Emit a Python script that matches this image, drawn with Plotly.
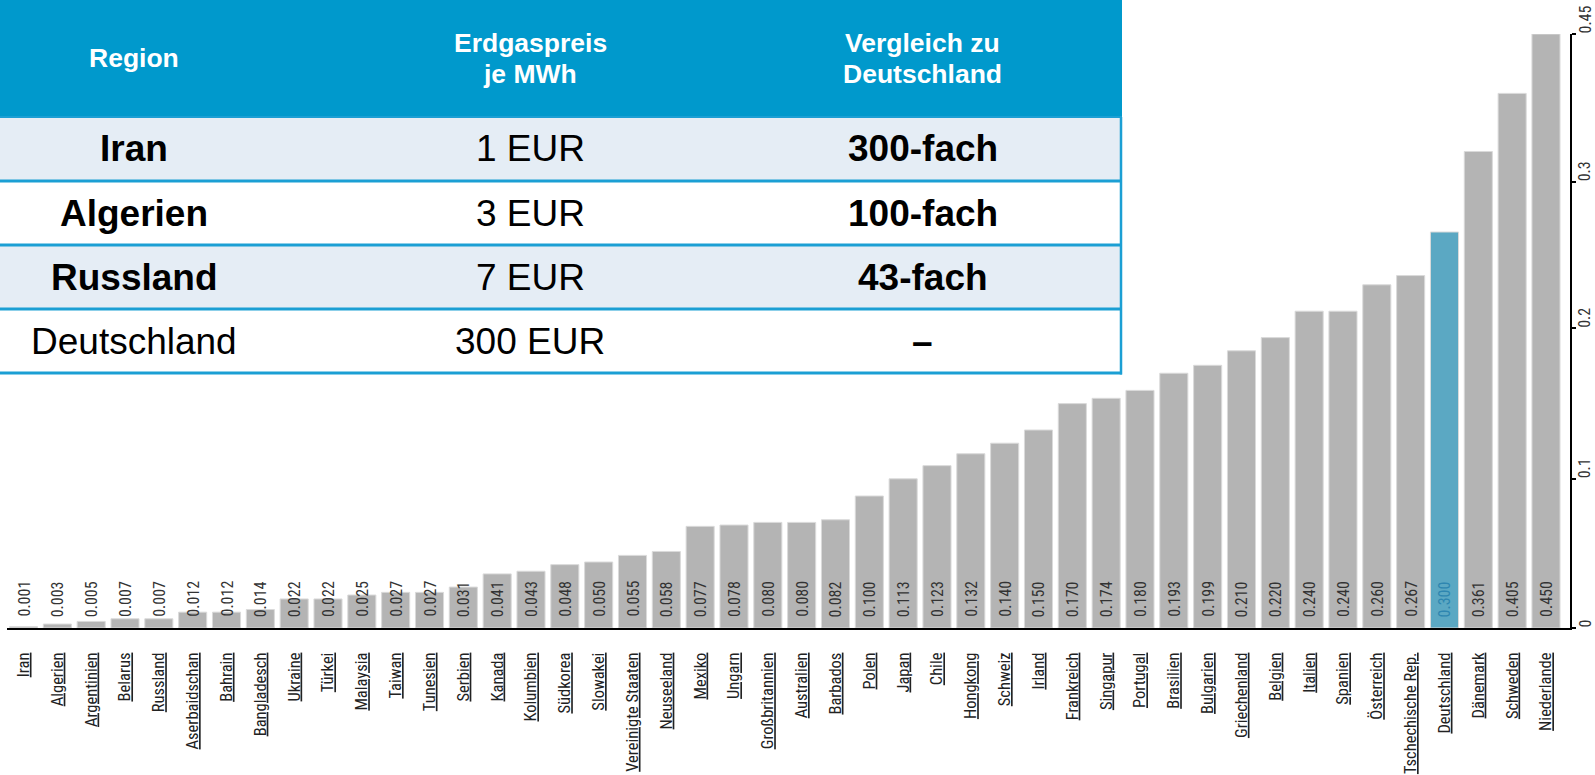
import plotly.graph_objects as go

# ---------------- data ----------------
countries = ["Iran", "Algerien", "Argentinien", "Belarus", "Russland", "Aserbaidschan", "Bahrain",
             "Bangladesch", "Ukraine", "Türkei", "Malaysia", "Taiwan", "Tunesien", "Serbien",
             "Kanada", "Kolumbien", "Südkorea", "Slowakei", "Vereinigte Staaten", "Neuseeland",
             "Mexiko", "Ungarn", "Großbritannien", "Australien", "Barbados", "Polen", "Japan",
             "Chile", "Hongkong", "Schweiz", "Irland", "Frankreich", "Singapur", "Portugal",
             "Brasilien", "Bulgarien", "Griechenland", "Belgien", "Italien", "Spanien",
             "Österreich", "Tschechische Rep.", "Deutschland", "Dänemark", "Schweden", "Niederlande"]
prices = [0.001, 0.003, 0.005, 0.007, 0.007, 0.012, 0.012, 0.014, 0.022, 0.022, 0.025, 0.027,
          0.027, 0.031, 0.041, 0.043, 0.048, 0.050, 0.055, 0.058, 0.077, 0.078, 0.080, 0.080,
          0.082, 0.100, 0.113, 0.123, 0.132, 0.140, 0.150, 0.170, 0.174, 0.180, 0.193, 0.199,
          0.210, 0.220, 0.240, 0.240, 0.260, 0.267, 0.300, 0.361, 0.405, 0.450]
highlight = "Deutschland"

y_tick_labels = ["0", "0.1", "0.2", "0.3", "0.45"]
y_tick_values = [0.0, 0.113, 0.227, 0.338, 0.45]

table_header = [["Region"], ["Erdgaspreis", "je MWh"], ["Vergleich zu", "Deutschland"]]
table_regions = ["Iran", "Algerien", "Russland", "Deutschland"]
table_prices = ["1 EUR", "3 EUR", "7 EUR", "300 EUR"]
table_compare = ["300-fach", "100-fach", "43-fach", "–"]
table_region_bold = [True, True, True, False]

# ---------------- styling / layout constants ----------------
W, H = 1595, 775
ML, MR, MT, MB = 7, 25, 34, 147
PW, PH = W - ML - MR, H - MT - MB
BAR_GRAY = "#b4b4b4"
BAR_BLUE = "#5ba8c3"
HEAD_BLUE = "#0099cc"
LINE_BLUE = "#1b9fd4"
ROW_LIGHT = "#e5edf5"
NARROW = "Liberation Sans Narrow, Arial Narrow, Roboto Condensed, DejaVu Sans Condensed, sans-serif"
SANS = "Liberation Sans, Arial, Helvetica, sans-serif"


def px_x(px):
    return (px - ML) / PW


def px_y(py):
    return (H - MB - py) / PH


colors = [BAR_BLUE if c == highlight else BAR_GRAY for c in countries]

fig = go.Figure()
fig.add_trace(go.Bar(
    x=countries, y=prices,
    marker=dict(color=colors, line=dict(color="#dadada", width=1)),
    hoverinfo="x+y", showlegend=False,
))

annotations = []
# value labels inside the bars (rotated)
for c, v in zip(countries, prices):
    annotations.append(dict(
        x=c, y=0, xref="x", yref="y", text=f"{v:.3f}", showarrow=False,
        textangle=-90, yanchor="bottom", xanchor="center", yshift=9,
        font=dict(family=NARROW, size=16,
                  color="#2e86b0" if c == highlight else "#333333"),
    ))

# y tick labels (rotated, starting at the tick)
for val, lab in zip(y_tick_values, y_tick_labels):
    annotations.append(dict(
        x=1, y=val, xref="paper", yref="y", text=lab, showarrow=False,
        textangle=-90, xanchor="left", yanchor="bottom", xshift=4, yshift=-1,
        borderpad=0,
        font=dict(family=NARROW, size=16, color="#333333"),
    ))

# ---------------- table (shapes + text) ----------------
TABLE_W = 1122
HEAD_H = 117
ROW_H = 64
col_centers = [134, 530, 923]
shapes = []
shapes.append(dict(type="rect", xref="paper", yref="paper",
                   x0=px_x(0), x1=px_x(TABLE_W), y0=px_y(HEAD_H), y1=px_y(0),
                   fillcolor=HEAD_BLUE, line=dict(width=0), layer="above"))
for i in range(len(table_regions)):
    top = HEAD_H + i * ROW_H
    shapes.append(dict(type="rect", xref="paper", yref="paper",
                       x0=px_x(0), x1=px_x(TABLE_W), y0=px_y(top + ROW_H), y1=px_y(top),
                       fillcolor=ROW_LIGHT if i % 2 == 0 else "white",
                       line=dict(width=0), layer="above"))
for i in range(len(table_regions) + 1):
    yy = HEAD_H + i * ROW_H
    shapes.append(dict(type="line", xref="paper", yref="paper",
                       x0=px_x(0), x1=px_x(TABLE_W), y0=px_y(yy), y1=px_y(yy),
                       line=dict(color=LINE_BLUE, width=3 if i > 0 else 2), layer="above"))
shapes.append(dict(type="line", xref="paper", yref="paper",
                   x0=px_x(TABLE_W - 1), x1=px_x(TABLE_W - 1),
                   y0=px_y(HEAD_H + len(table_regions) * ROW_H + 1.5), y1=px_y(HEAD_H),
                   line=dict(color=LINE_BLUE, width=2.5), layer="above"))

# header text
for cx, lines in zip(col_centers, table_header):
    n = len(lines)
    for k, line in enumerate(lines):
        cy = HEAD_H / 2 + (k - (n - 1) / 2) * 31
        annotations.append(dict(
            x=px_x(cx), y=px_y(cy), xref="paper", yref="paper", text=f"<b>{line}</b>",
            showarrow=False, xanchor="center", yanchor="middle",
            font=dict(family=SANS, size=26.5, color="white"),
        ))

# body text
for i, (reg, pr, cmp_, bold) in enumerate(zip(table_regions, table_prices, table_compare,
                                               table_region_bold)):
    cy = HEAD_H + i * ROW_H + ROW_H / 2
    cells = [(f"<b>{reg}</b>" if bold else reg), pr, f"<b>{cmp_}</b>"]
    for cx, txt in zip(col_centers, cells):
        annotations.append(dict(
            x=px_x(cx), y=px_y(cy), xref="paper", yref="paper", text=txt,
            showarrow=False, xanchor="center", yanchor="middle",
            font=dict(family=SANS, size=37, color="black"),
        ))

fig.update_layout(
    width=W, height=H,
    margin=dict(l=ML, r=MR, t=MT, b=MB, autoexpand=False),
    paper_bgcolor="white", plot_bgcolor="white",
    bargap=0.17,
    xaxis=dict(
        type="category", range=[-0.488, 45.71],
        tickmode="array", tickvals=countries,
        ticktext=[f"<u>{c}</u>" for c in countries],
        tickangle=-90, ticks="", ticklabelstandoff=16,
        tickfont=dict(family=NARROW, size=16.5, color="#222222"),
        showline=True, linecolor="black", linewidth=2,
        showgrid=False, zeroline=False, automargin=False,
    ),
    yaxis=dict(
        range=[0, 0.45], side="right",
        tickmode="array", tickvals=y_tick_values, ticktext=y_tick_labels,
        showticklabels=False, ticks="outside", ticklen=4, tickwidth=1.5, tickcolor="black",
        showline=True, linecolor="black", linewidth=2,
        showgrid=False, zeroline=False, automargin=False,
    ),
    shapes=shapes,
    annotations=annotations,
)

fig.write_html(
    "out.html",
    config={"displayModeBar": False},
    post_script="document.body.style.margin='0';document.body.style.padding='0';",
)
